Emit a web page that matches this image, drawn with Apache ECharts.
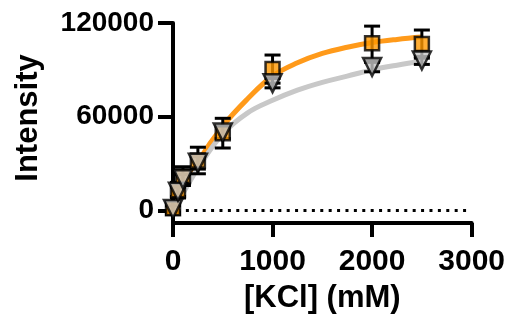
<!DOCTYPE html>
<html>
<head>
<meta charset="utf-8">
<script src="https://cdn.jsdelivr.net/npm/echarts@6/dist/echarts.min.js"></script>
<style>
  html, body { margin: 0; padding: 0; background: #fff; }
  #chart { width: 508px; height: 324px; }
</style>
</head>
<body>
<div id="chart"></div>
<script>
// measured points (mean +/- error)
const kcl = [0, 50, 100, 250, 500, 1000, 2000, 2500];
const orangeMean = [1500, 13000, 22000, 32000, 49500, 90500, 107000, 106500];
const orangeErr = [4000, 5000, 6000, 8500, 9500, 9000, 11000, 9000];
const grayMean = [1000, 12000, 20000, 30500, 50000, 81500, 91800, 96000];
const grayErr = [2000, 3000, 3000, 4000, 4000, 3000, 3000, 2500];

// fitted curves
const fitX = [0, 100, 250, 500, 750, 1000, 1250, 1500, 1750, 2000, 2250, 2500];
const orangeFit = [0, 12000, 31000, 54000, 71500, 86000, 94500, 100500, 104500, 107500, 109500, 111000];
const grayFit = [0, 11000, 27000, 49000, 62500, 70500, 77000, 82000, 86000, 90000, 93000, 95500];

// dotted baseline at y = 0
const baseX = [60, 2990];
const baseY = 0;

const yTicks = [0, 60000, 120000];

const zip = (xs, ys) => xs.map((x, i) => [x, ys[i]]);
const errData = (means, errs) => kcl.map((x, i) => [x, means[i] - errs[i], means[i] + errs[i]]);

const errorBars = (data, z) => ({
  type: 'custom',
  z: z,
  data: data,
  renderItem: function (params, api) {
    const x = api.value(0);
    const lo = api.coord([x, api.value(1)]);
    const hi = api.coord([x, api.value(2)]);
    const half = 8;
    const style = { stroke: '#000', lineWidth: 3 };
    return {
      type: 'group',
      children: [
        { type: 'line', shape: { x1: lo[0], y1: lo[1], x2: hi[0], y2: hi[1] }, style: style },
        { type: 'line', shape: { x1: lo[0] - half, y1: lo[1], x2: lo[0] + half, y2: lo[1] }, style: style },
        { type: 'line', shape: { x1: hi[0] - half, y1: hi[1], x2: hi[0] + half, y2: hi[1] }, style: style }
      ]
    };
  }
});

const font = 'Liberation Sans, Arial, sans-serif';
const plain = v => String(v);

const option = {
  animation: false,
  grid: { left: 173, right: 35, top: 23, bottom: 101 },
  xAxis: {
    type: 'value',
    min: 0,
    max: 3000,
    interval: 1000,
    name: '[KCl] (mM)',
    nameLocation: 'middle',
    nameGap: 60,
    nameTextStyle: { fontSize: 31, fontWeight: 'bold', color: '#000', fontFamily: font },
    axisLine: { onZero: false, lineStyle: { color: '#000', width: 4 } },
    axisTick: { length: 14, lineStyle: { color: '#000', width: 4 } },
    axisLabel: { margin: 24, fontSize: 30, fontWeight: 'bold', color: '#000', fontFamily: font, formatter: plain },
    splitLine: { show: false }
  },
  yAxis: {
    type: 'value',
    min: -8000,
    max: 120000,
    name: 'Intensity',
    nameLocation: 'middle',
    nameGap: 129,
    nameTextStyle: { fontSize: 31, fontWeight: 'bold', color: '#000', fontFamily: font, padding: [0, 0, 0, 10] },
    axisLine: { show: true, lineStyle: { color: '#000', width: 4 } },
    axisTick: { show: true, length: 15, customValues: yTicks, lineStyle: { color: '#000', width: 4 } },
    axisLabel: { margin: 19, fontSize: 28, fontWeight: 'bold', color: '#000', fontFamily: font, customValues: yTicks, formatter: plain },
    splitLine: { show: false }
  },
  series: [
    {
      // dotted zero line, dots spaced along the baseline
      type: 'custom',
      z: 1,
      silent: true,
      data: [[baseX[0], baseX[1], baseY]],
      renderItem: function (params, api) {
        const a = api.coord([api.value(0), api.value(2)]);
        const b = api.coord([api.value(1), api.value(2)]);
        const dots = [];
        for (let px = a[0]; px <= b[0]; px += 8.4) {
          dots.push({ type: 'rect', shape: { x: px - 1.5, y: a[1] - 1.5, width: 3, height: 3 }, style: { fill: '#000' } });
        }
        return { type: 'group', children: dots };
      }
    },
    {
      type: 'line',
      data: zip(fitX, orangeFit),
      smooth: 0.4,
      showSymbol: false,
      z: 2,
      lineStyle: { color: '#FF9A1A', width: 5 }
    },
    {
      type: 'line',
      data: zip(fitX, grayFit),
      smooth: 0.4,
      showSymbol: false,
      z: 2,
      lineStyle: { color: '#C8C8C8', width: 5 }
    },
    errorBars(errData(orangeMean, orangeErr), 3),
    errorBars(errData(grayMean, grayErr), 3),
    {
      type: 'scatter',
      data: zip(kcl, orangeMean),
      symbol: 'rect',
      symbolSize: 14,
      z: 4,
      itemStyle: { color: '#FF9900', borderColor: '#000', borderWidth: 2.5 }
    },
    {
      type: 'scatter',
      data: zip(kcl, grayMean),
      symbol: 'triangle',
      symbolRotate: 180,
      symbolSize: 18,
      z: 5,
      itemStyle: { color: '#C4C4C4', borderColor: '#000', borderWidth: 2.5 }
    }
  ]
};

const myChart = echarts.init(document.getElementById('chart'));
myChart.setOption(option);
</script>
</body>
</html>
